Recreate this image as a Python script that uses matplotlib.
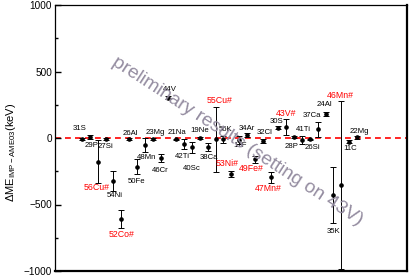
import numpy as np
import matplotlib
matplotlib.use('Agg')
import matplotlib.pyplot as plt

plt.rcParams['font.family'] = ['Liberation Sans', 'DejaVu Sans']
plt.rcParams['mathtext.fontset'] = 'custom'
plt.rcParams['mathtext.rm'] = 'Liberation Sans'

# nuclides in plotting order
nuclides = ['31S', '29P', '56Cu#', '27Si', '54Ni', '52Co#', '26Al', '50Fe', '48Mn', '23Mg',
            '46Cr', '44V', '21Na', '42Ti', '40Sc', '19Ne', '38Ca', '55Cu#', '56K', '53Ni#',
            '17F', '34Ar', '49Fe#', '32Cl', '47Mn#', '30S', '43V#', '28P', '41Ti', '26Si',
            '37Ca', '24Al', '35K', '46Mn#', '11C', '22Mg']
# ME(IMP) - ME(AME03), keV
dme = [-8, 8, -178, -8, -323, -609, -8, -216, -53, -5,
       -153, 303, -10, -45, -70, -2, -70, -10, -10, -271,
       -15, 22, -160, -22, -296, 77, 80, 5, -15, -10,
       65, 180, -429, -353, -28, 5]
err = [10, 15, 160, 8, 75, 71, 8, 58, 52, 8,
       30, 12, 6, 34, 40, 6, 29, 246, 28, 23,
       28, 12, 25, 15, 41, 12, 60, 8, 33, 6,
       55, 12, 213, 630, 12, 10]

# label offsets from the point, in pixels (right, down)
lab_dx = [-2, 2, -1, 0, 1, 0, 1, 0, 2, 3, 0, 1, 1, -2, 0, 0, 1, 4, 2, -4,
          1, 0, -4, 2, -2, -2, 0, -3, 1, 3, -6, -1, 0, -1, 1, 2]
lab_dy = [-11, 9, 26, 7, 15, 16, -6, 15, 12, -6, 12, -8, -7, 13, 21, -8, 10, -39, -10, -11,
          6, -7, 9, -8, 11, -6, -14, 9, -10, 8, -14, -10, 36, -89, 7, -6]

x = np.arange(len(nuclides))

fig = plt.figure(figsize=(4.12, 2.77), dpi=100)
ax = fig.add_axes([55/412, 6/277, 352/412, 266/277])

ax.axhline(0, color='red', lw=1.2, ls=(0, (3.5, 2.5)), zorder=1)
ax.errorbar(x, dme, yerr=err, fmt='o', color='black', ms=2.3, elinewidth=0.7,
            capsize=2.2, capthick=0.7, zorder=3)

for i, name in enumerate(nuclides):
    red = name.endswith('#')
    ax.annotate(name, (x[i], dme[i]), xytext=(lab_dx[i]*0.72, -lab_dy[i]*0.72),
                textcoords='offset points', ha='center', va='center',
                fontsize=6.3 if red else 5.6, color='red' if red else 'black')

ax.set_xlim(-3.44, 41.36)
ax.set_ylim(-1000, 1000)
ax.set_xticks([])
ax.set_yticks([-1000, -500, 0, 500, 1000])
ax.set_yticks([-750, -250, 250, 750], minor=True)
ax.tick_params(axis='y', which='major', direction='in', length=4, width=1, labelsize=7.2, pad=2)
ax.tick_params(axis='y', which='minor', direction='in', length=2, width=1)
for s in ['bottom', 'right']:
    ax.spines[s].set_linewidth(1.6)
for s in ['top', 'left']:
    ax.spines[s].set_linewidth(0.9)

ax.set_ylabel(r'$\Delta$ME$_{\rm IMP-AME03}$(keV)', fontsize=8)
ax.yaxis.set_label_coords(-0.105, 0.447)

fig.text(237/412, 1 - 141/277, 'preliminary results (setting on 43V)', rotation=-33,
         rotation_mode='anchor', ha='center', va='center', fontsize=13.8,
         color='#948ca0', zorder=0)

fig.savefig('out.png', dpi=100)
